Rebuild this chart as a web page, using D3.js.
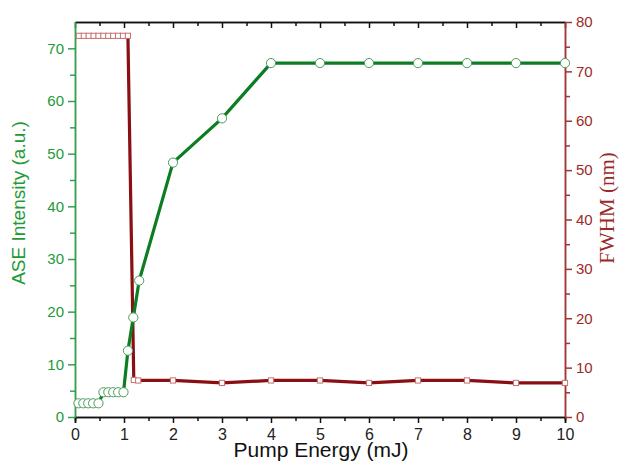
<!DOCTYPE html>
<html>
<head>
<meta charset="utf-8">
<script src="https://cdn.jsdelivr.net/npm/d3@7"></script>
<style>
  body { margin: 0; background: #fff; }
  svg { display: block; }
</style>
</head>
<body>
<svg id="chart" width="619" height="461"></svg>
<script>
// ASE intensity (left axis, green)
const aseEnergy = [0.07, 0.17, 0.27, 0.37, 0.48, 0.58, 0.68, 0.78, 0.88, 0.99, 1.08, 1.19, 1.31, 2, 3, 4, 5, 6, 7, 8, 9, 10];
const aseValues = [2.6, 2.6, 2.6, 2.6, 2.6, 4.7, 4.7, 4.7, 4.7, 4.7, 12.6, 18.9, 25.9, 48.3, 56.7, 67.2, 67.2, 67.2, 67.2, 67.2, 67.2, 67.2];

// FWHM (right axis, dark red)
const fwhmEnergy = [0.08, 0.18, 0.28, 0.38, 0.48, 0.58, 0.68, 0.78, 0.88, 0.98, 1.08, 1.2, 1.29, 2, 3, 4, 5, 6, 7, 8, 9, 10];
const fwhmValues = [77.2, 77.2, 77.2, 77.2, 77.2, 77.2, 77.2, 77.2, 77.2, 77.2, 77.2, 7.5, 7.4, 7.4, 6.9, 7.4, 7.4, 6.9, 7.4, 7.4, 6.9, 6.9];

const xTicks = [0, 1, 2, 3, 4, 5, 6, 7, 8, 9, 10];
const leftTicks = [0, 10, 20, 30, 40, 50, 60, 70];
const rightTicks = [0, 10, 20, 30, 40, 50, 60, 70, 80];

const margin = { left: 75, right: 54, top: 22, bottom: 44 };
const W = 619, H = 461;

const svg = d3.select("#chart");

const x = d3.scaleLinear().domain([0, 10]).range([margin.left, W - margin.right]);
const yL = d3.scaleLinear().domain([0, 75]).range([H - margin.bottom, margin.top]);
const yR = d3.scaleLinear().domain([0, 80]).range([H - margin.bottom, margin.top]);

const green = "#0c7d22";
const axisGreen = "#35a04c";
const darkRed = "#8a0f12";
const axisRed = "#a33434";

// minor ticks
const xMinor = d3.range(0.5, 10, 1);
const leftMinor = d3.range(5, 75, 10);
const rightMinor = d3.range(5, 80, 10);

// bottom axis
const gBottom = svg.append("g").attr("transform", `translate(0,${H - margin.bottom})`);
gBottom.call(d3.axisBottom(x).tickValues(xTicks).tickFormat(d3.format("d")).tickSize(6).tickPadding(6));
gBottom.append("g").call(d3.axisBottom(x).tickValues(xMinor).tickFormat("").tickSize(4));
gBottom.selectAll("path").attr("stroke", "#111").attr("stroke-width", 1.5);
gBottom.selectAll(".tick line").attr("stroke", "#111").attr("stroke-width", 1.5);
gBottom.selectAll("text").attr("font-family", "Liberation Sans, Arial, sans-serif").attr("font-size", 16).attr("fill", "#222");

// top axis, ticks pointing inward
const gTop = svg.append("g").attr("transform", `translate(0,${margin.top})`);
gTop.call(d3.axisBottom(x).tickValues(xTicks).tickFormat("").tickSize(6).tickSizeOuter(0));
gTop.append("g").call(d3.axisBottom(x).tickValues(xMinor).tickFormat("").tickSize(4).tickSizeOuter(0));
gTop.selectAll("path").attr("stroke", "#111").attr("stroke-width", 1.5);
gTop.selectAll(".tick line").attr("stroke", "#111").attr("stroke-width", 1.5);

// left axis
const gLeft = svg.append("g").attr("transform", `translate(${margin.left},0)`);
gLeft.call(d3.axisLeft(yL).tickValues(leftTicks).tickSize(7).tickPadding(4).tickSizeOuter(0));
gLeft.append("g").call(d3.axisLeft(yL).tickValues(leftMinor).tickFormat("").tickSize(5).tickSizeOuter(0));
gLeft.selectAll("path").attr("stroke", axisGreen).attr("stroke-width", 1.5);
gLeft.selectAll(".tick line").attr("stroke", axisGreen).attr("stroke-width", 1.5);
gLeft.selectAll("text").attr("font-family", "Liberation Sans, Arial, sans-serif").attr("font-size", 15).attr("fill", "#1e9a36");

// right axis
const gRight = svg.append("g").attr("transform", `translate(${W - margin.right},0)`);
gRight.call(d3.axisRight(yR).tickValues(rightTicks).tickSize(7).tickPadding(4).tickSizeOuter(0));
gRight.append("g").call(d3.axisRight(yR).tickValues(rightMinor).tickFormat("").tickSize(5).tickSizeOuter(0));
gRight.selectAll("path").attr("stroke", axisRed).attr("stroke-width", 1.5);
gRight.selectAll(".tick line").attr("stroke", axisRed).attr("stroke-width", 1.5);
gRight.selectAll("text").attr("font-family", "Liberation Sans, Arial, sans-serif").attr("font-size", 15).attr("fill", "#9a2a2a");

// lines
const fwhmPts = fwhmEnergy.map((e, i) => [e, fwhmValues[i]]);
const asePts = aseEnergy.map((e, i) => [e, aseValues[i]]);

svg.append("path")
  .datum(fwhmPts)
  .attr("d", d3.line().x(d => x(d[0])).y(d => yR(d[1])))
  .attr("fill", "none")
  .attr("stroke", darkRed)
  .attr("stroke-width", 3.2);

svg.append("path")
  .datum(asePts)
  .attr("d", d3.line().x(d => x(d[0])).y(d => yL(d[1])))
  .attr("fill", "none")
  .attr("stroke", green)
  .attr("stroke-width", 3.2);

// markers
svg.append("g").selectAll("rect")
  .data(fwhmPts)
  .join("rect")
  .attr("x", d => x(d[0]) - 2.6)
  .attr("y", d => yR(d[1]) - 2.6)
  .attr("width", 5.2)
  .attr("height", 5.2)
  .attr("fill", "#fff")
  .attr("stroke", "#c87070")
  .attr("stroke-width", 1);

svg.append("g").selectAll("circle")
  .data(asePts)
  .join("circle")
  .attr("cx", d => x(d[0]))
  .attr("cy", d => yL(d[1]))
  .attr("r", 4.6)
  .attr("fill", "#fff")
  .attr("stroke", "#4c9c5c")
  .attr("stroke-width", 1);

// axis titles
svg.append("text")
  .attr("transform", `translate(25,203) rotate(-90)`)
  .attr("text-anchor", "middle")
  .attr("font-family", "Liberation Sans, Arial, sans-serif")
  .attr("font-size", 19)
  .attr("fill", "#1e9a36")
  .text("ASE Intensity (a.u.)");

svg.append("text")
  .attr("transform", `translate(614,208) rotate(-90)`)
  .attr("text-anchor", "middle")
  .attr("font-family", "Liberation Serif, Times New Roman, serif")
  .attr("font-size", 21)
  .attr("fill", "#9a2a2a")
  .text("FWHM (nm)");

svg.append("text")
  .attr("x", 321)
  .attr("y", 457)
  .attr("text-anchor", "middle")
  .attr("font-family", "Liberation Sans, Arial, sans-serif")
  .attr("font-size", 21)
  .attr("fill", "#111")
  .text("Pump Energy (mJ)");
</script>
</body>
</html>
